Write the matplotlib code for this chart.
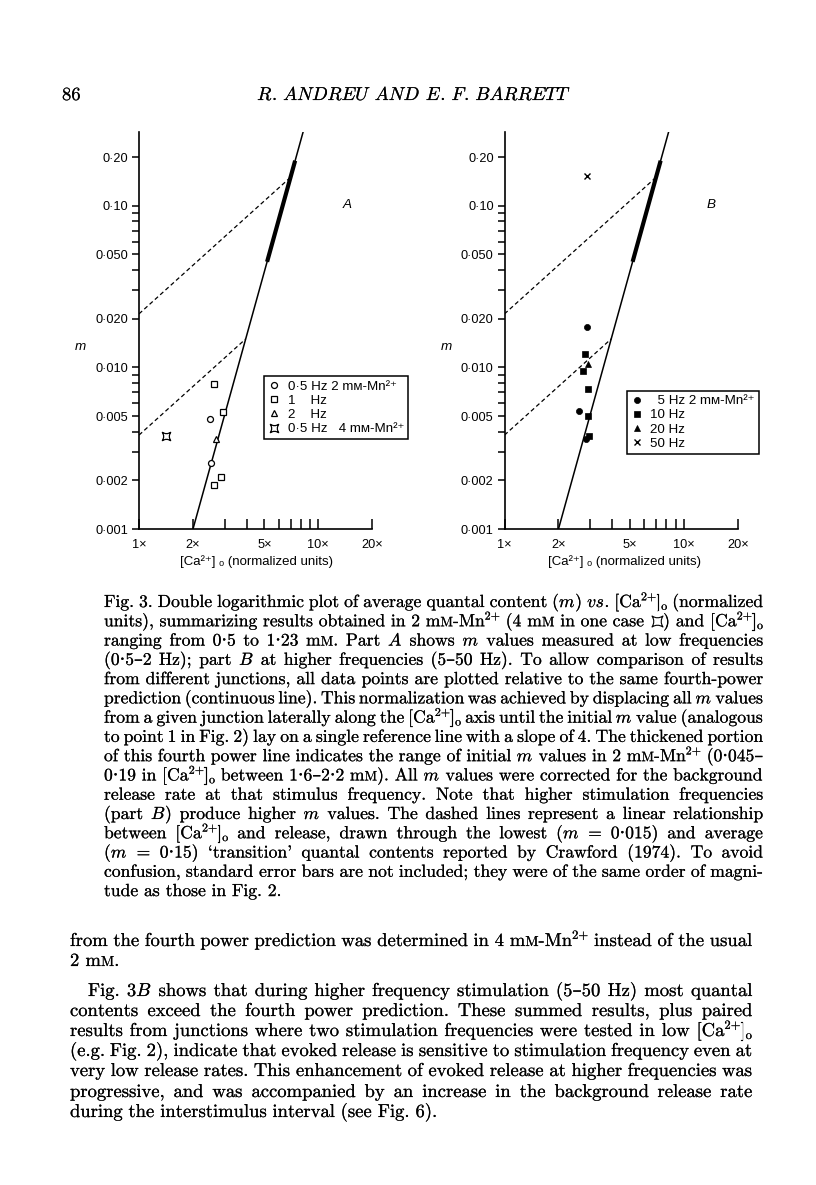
import matplotlib
matplotlib.use('Agg')
import numpy as np
import matplotlib.pyplot as plt
import matplotlib.patheffects as pe
from matplotlib.path import Path
from matplotlib.lines import Line2D
from matplotlib.transforms import IdentityTransform
from matplotlib.ticker import NullFormatter, FixedLocator, FixedFormatter
from matplotlib.font_manager import FontProperties

# ---------------- data ----------------
# Part A (low frequencies)
A_circle_x = [2.49, 2.52]
A_circle_m = [0.0048, 0.00255]
A_square_x = [2.62, 2.95, 2.85, 2.62]
A_square_m = [0.00786, 0.00532, 0.00209, 0.00187]
A_tri_x = [2.69]
A_tri_m = [0.00359]
A_quad_x = [1.41]
A_quad_m = [0.00378]
A_labels = ['0·5 Hz 2 mᴍ-Mn²⁺', '1    Hz', '2    Hz', '0·5 Hz   4 mᴍ-Mn²⁺']

# Part B (higher frequencies)
B_circle_x = [2.87, 2.61, 2.83]
B_circle_m = [0.0177, 0.00537, 0.00362]
B_square_x = [2.81, 2.73, 2.91, 2.93, 2.96]
B_square_m = [0.01205, 0.0095, 0.00735, 0.00503, 0.00376]
B_tri_x = [2.91]
B_tri_m = [0.0105]
B_cross_x = [2.87]
B_cross_m = [0.153]
B_labels = ['  5 Hz 2 mᴍ-Mn²⁺', '10 Hz', '20 Hz', '50 Hz']

# fourth-power reference line (passes through x=2, m=0.001, slope 4)
ref_x, ref_m, slope = 2.0, 0.001, 4.0
thick_range = (0.045, 0.19)        # initial m values, thickened portion
transition_m = [0.015, 0.15]       # Crawford (1974) transition quantal contents

x_major = [1, 2, 5, 10, 20]
x_major_labels = ['1×', '2×', '5×', '10×', '20×']
x_minor = [3, 4, 6, 7, 8, 9]
y_major = [0.001, 0.002, 0.005, 0.010, 0.020, 0.050, 0.10, 0.20]
y_major_labels = ['0·001', '0·002', '0·005', '0·010', '0·020', '0·050', '0·10', '0·20']
y_minor = [0.003, 0.004, 0.006, 0.007, 0.008, 0.009, 0.03, 0.04, 0.06, 0.07, 0.08, 0.09]

# ---------------- figure ----------------
W, H = 816, 1185
fig = plt.figure(figsize=(W / 100, H / 100), dpi=100)
fig.patch.set_facecolor('white')
renderer = fig.canvas.get_renderer()

SANS = ['Liberation Sans', 'DejaVu Sans']
SFS = 9.2
LFS = 9.6


def quad_marker(k=0.35):
    verts = [(-1, -1), (0, -k), (1, -1), (k, 0), (1, 1), (0, k), (-1, 1), (-k, 0), (-1, -1), (-1, -1)]
    codes = [Path.MOVETO] + [Path.CURVE3] * 8 + [Path.CLOSEPOLY]
    return Path(verts, codes)


QUAD = quad_marker()


def fourth_power(x):
    return ref_m * (np.asarray(x) / ref_x) ** slope


def x_of_m(m):
    return ref_x * (m / ref_m) ** (1.0 / slope)


def make_axes(left_px, bottom_px, xlabel_x):
    aw, ah = 233.3, 397.0
    ax = fig.add_axes([left_px / W, 1 - bottom_px / H, aw / W, ah / H])
    ax.set_xscale('log')
    ax.set_yscale('log')
    ax.set_xlim(1, 20)
    ax.set_ylim(0.001, 0.286)
    ax.patch.set_alpha(0)
    for s in ['top', 'right']:
        ax.spines[s].set_visible(False)
    for s in ['left', 'bottom']:
        ax.spines[s].set_linewidth(1.2)
    ax.xaxis.set_major_locator(FixedLocator(x_major))
    ax.xaxis.set_major_formatter(FixedFormatter(x_major_labels))
    ax.xaxis.set_minor_locator(FixedLocator(x_minor))
    ax.xaxis.set_minor_formatter(NullFormatter())
    ax.yaxis.set_major_locator(FixedLocator(y_major))
    ax.yaxis.set_major_formatter(FixedFormatter(y_major_labels))
    ax.yaxis.set_minor_locator(FixedLocator(y_minor))
    ax.yaxis.set_minor_formatter(NullFormatter())
    ax.tick_params(axis='x', which='both', direction='in', length=7.5, width=1.1, pad=7)
    ax.tick_params(axis='y', which='both', direction='out', length=5.3, width=1.1, pad=2.5)
    for lab in ax.get_xticklabels() + ax.get_yticklabels():
        lab.set_fontfamily(SANS)
        lab.set_fontsize(SFS)
    # fourth power line
    xs = np.array([ref_x, 12.0])
    ax.plot(xs, fourth_power(xs), color='k', lw=1.1, solid_capstyle='butt')
    xt = np.array([x_of_m(thick_range[0]), x_of_m(thick_range[1])])
    ax.plot(xt, fourth_power(xt), color='k', lw=3.0, solid_capstyle='butt')
    # dashed linear relations
    for mt in transition_m:
        xi = x_of_m(mt)
        xd = np.array([1.0, xi])
        ax.plot(xd, mt * xd / xi, color='k', lw=0.9, dashes=(3.4, 2.3))
    ax.set_ylabel('m', fontstyle='italic', fontfamily=SANS, fontsize=SFS + 0.5, rotation=0,
                  va='center', ha='center')
    ax.yaxis.set_label_coords(-0.25, 0.459)
    ax.set_xlabel('[Ca²⁺] ₒ (normalized units)', fontfamily=SANS, fontsize=SFS + 0.3,
                  va='center', ha='center')
    ax.xaxis.set_label_coords(xlabel_x, -0.083)
    return ax


def add_legend(ax, handles, labels, left_px, top_px):
    leg = ax.legend(handles, labels, loc='upper left', bbox_to_anchor=(left_px / W, 1 - top_px / H),
                    bbox_transform=fig.transFigure, frameon=True, fancybox=False, framealpha=1,
                    edgecolor='k', borderpad=0.32, handlelength=0.9, handletextpad=0.55,
                    labelspacing=0.14, borderaxespad=0, prop=FontProperties(family=SANS, size=LFS))
    leg.get_frame().set_linewidth(1.1)
    return leg


# ---------- panel A ----------
axA = make_axes(139.0, 529.0, 0.504)
axA.plot(A_circle_x, A_circle_m, ls='none', marker='o', ms=4.3, mfc='white', mec='k', mew=0.9)
axA.plot(A_square_x, A_square_m, ls='none', marker='s', ms=4.0, mfc='white', mec='k', mew=0.9)
axA.plot(A_tri_x, A_tri_m, ls='none', marker='^', ms=4.6, mfc='white', mec='k', mew=0.9)
axA.plot(A_quad_x, A_quad_m, ls='none', marker=QUAD, ms=6.0, mfc='white', mec='k', mew=0.9)
axA.text(0.893, 0.816, 'A', transform=axA.transAxes, fontstyle='italic', fontfamily=SANS,
         fontsize=SFS + 0.5, ha='center', va='center')
hA = [Line2D([], [], ls='none', marker='o', ms=4.3, mfc='white', mec='k', mew=0.9),
      Line2D([], [], ls='none', marker='s', ms=4.0, mfc='white', mec='k', mew=0.9),
      Line2D([], [], ls='none', marker='^', ms=4.6, mfc='white', mec='k', mew=0.9),
      Line2D([], [], ls='none', marker=QUAD, ms=6.0, mfc='white', mec='k', mew=0.9)]
add_legend(axA, hA, A_labels, 264.0, 376.0)

# ---------- panel B ----------
axB = make_axes(504.5, 529.0, 0.516)
axB.plot(B_circle_x, B_circle_m, ls='none', marker='o', ms=4.4, mfc='k', mec='k', mew=0.5)
axB.plot(B_square_x, B_square_m, ls='none', marker='s', ms=4.2, mfc='k', mec='k', mew=0.5)
axB.plot(B_tri_x, B_tri_m, ls='none', marker='^', ms=4.6, mfc='k', mec='k', mew=0.5)
axB.plot(B_cross_x, B_cross_m, ls='none', marker='x', ms=4.4, mec='k', mew=1.0)
axB.text(0.884, 0.816, 'B', transform=axB.transAxes, fontstyle='italic', fontfamily=SANS,
         fontsize=SFS + 0.5, ha='center', va='center')
hB = [Line2D([], [], ls='none', marker='o', ms=4.4, mfc='k', mec='k', mew=0.5),
      Line2D([], [], ls='none', marker='s', ms=4.2, mfc='k', mec='k', mew=0.5),
      Line2D([], [], ls='none', marker='^', ms=4.6, mfc='k', mec='k', mew=0.5),
      Line2D([], [], ls='none', marker='x', ms=4.0, mec='k', mew=1.0)]
add_legend(axB, hB, B_labels, 626.7, 390.7)

# ---------------- running text ----------------
ROMAN = ['cmr10', 'DejaVu Serif']
ITAL = ['cmmi10', 'DejaVu Serif']
ID = IdentityTransform()
INK = [pe.withStroke(linewidth=0.12, foreground='k')]


def parse(word):
    segs, style, buf = [], 'r', ''
    toggles = {'*': 'i', '~': 'sc', '^': 'sup', '_': 'sub'}
    for ch in word:
        if ch in toggles:
            if buf:
                segs.append((buf, style))
                buf = ''
            style = toggles[ch] if style != toggles[ch] else 'r'
        elif ch == '⌑':
            if buf:
                segs.append((buf, style))
                buf = ''
            segs.append(('⌑', 'q'))
        else:
            buf += ch
    if buf:
        segs.append((buf, style))
    return segs


def build_word(word, fs):
    """create artists for one word, return list of (artist, width, dy, kind)"""
    out = []
    em = fs * 100 / 72
    for text, st in parse(word):
        if st == 'q':
            ln = Line2D([0], [0], transform=ID, ls='none', marker=QUAD, ms=fs * 0.62,
                        mfc='white', mec='k', mew=0.8)
            fig.add_artist(ln)
            out.append((ln, em * 0.75, em * 0.3, 'q'))
            continue
        fam = ITAL if st == 'i' else ROMAN
        size = fs
        dy = 0.0
        if st == 'sc':
            size = fs * 0.78
        elif st == 'sup':
            size = fs * 0.68
            dy = em * 0.38
        elif st == 'sub':
            size = fs * 0.68
            dy = -em * 0.16
        t = fig.text(0, 0, text, transform=ID, fontsize=size, family=fam, ha='left', va='baseline',
                     color='k', path_effects=INK)
        w = t.get_window_extent(renderer).width
        if st == 'i':
            w += em * 0.04
        out.append((t, w, dy, 't'))
    return out


def layout_line(line, fs, x0, x1, y, justify=True, center=False):
    words = [w for w in line.split(' ') if w]
    built = [build_word(w, fs) for w in words]
    widths = [sum(p[1] for p in b) for b in built]
    em = fs * 100 / 72
    nat_space = 0.333 * em
    n = len(words) - 1
    total = sum(widths)
    if justify and n > 0:
        space = (x1 - x0 - total) / n
    else:
        space = nat_space
    if center:
        x = (x0 + x1) / 2 - (total + n * space) / 2
    else:
        x = x0
    yb = H - y
    for b, wsum in zip(built, widths):
        for art, w, dy, kind in b:
            if kind == 'q':
                art.set_data([x + w / 2], [yb + dy])
            else:
                art.set_position((x, yb + dy))
            x += w
        x += space


def natural_per_fs(line, fs0=10.0):
    words = [w for w in line.split(' ') if w]
    tot = 0.0
    for w in words:
        for art, wd, dy, kind in build_word(w, fs0):
            tot += wd
            art.remove()
    return tot / fs0, len(words) - 1


def fit_fs(lines, width):
    vals = []
    for ln in lines:
        per, n = natural_per_fs(ln)
        vals.append(width / (per + n * 0.333 * 100 / 72))
    return float(np.median(vals))


caption = [
    "Fig. 3. Double logarithmic plot of average quantal content (*m*) *vs*. [Ca^2+^]_o_ (normalized",
    "units), summarizing results obtained in 2 m~M~-Mn^2+^ (4 m~M~ in one case ⌑) and [Ca^2+^]_o_",
    "ranging from 0·5 to 1·23 m~M~. Part *A* shows *m* values measured at low frequencies",
    "(0·5–2 Hz); part *B* at higher frequencies (5–50 Hz). To allow comparison of results",
    "from different junctions, all data points are plotted relative to the same fourth-power",
    "prediction (continuous line). This normalization was achieved by displacing all *m* values",
    "from a given junction laterally along the [Ca^2+^]_o_ axis until the initial *m* value (analogous",
    "to point 1 in Fig. 2) lay on a single reference line with a slope of 4. The thickened portion",
    "of this fourth power line indicates the range of initial *m* values in 2 m~M~-Mn^2+^ (0·045–",
    "0·19 in [Ca^2+^]_o_ between 1·6–2·2 m~M~). All *m* values were corrected for the background",
    "release rate at that stimulus frequency. Note that higher stimulation frequencies",
    "(part *B*) produce higher *m* values. The dashed lines represent a linear relationship",
    "between [Ca^2+^]_o_ and release, drawn through the lowest (*m* = 0·015) and average",
    "(*m* = 0·15) `transition' quantal contents reported by Crawford (1974). To avoid",
    "confusion, standard error bars are not included; they were of the same order of magni-",
    "tude as those in Fig. 2.",
]
body = [
    "from the fourth power prediction was determined in 4 m~M~-Mn^2+^ instead of the usual",
    "2 m~M~.",
    "Fig. 3*B* shows that during higher frequency stimulation (5–50 Hz) most quantal",
    "contents exceed the fourth power prediction. These summed results, plus paired",
    "results from junctions where two stimulation frequencies were tested in low [Ca^2+^]_o_",
    "(e.g. Fig. 2), indicate that evoked release is sensitive to stimulation frequency even at",
    "very low release rates. This enhancement of evoked release at higher frequencies was",
    "progressive, and was accompanied by an increase in the background release rate",
    "during the interstimulus interval (see Fig. 6).",
]

CAP_X0, CAP_X1 = 104.0, 763.0
cap_fs = fit_fs(caption[:-1], CAP_X1 - CAP_X0)
for i, ln in enumerate(caption):
    layout_line(ln, cap_fs, CAP_X0, CAP_X1, 607 + 19.27 * i, justify=(i < len(caption) - 1))

BODY_X0, BODY_X1 = 70.0, 752.0
body_fs = fit_fs([body[0]] + body[3:8], BODY_X1 - BODY_X0)
body_y = [946, 966, 996, 1016, 1036, 1056, 1076, 1097, 1117]
for i, ln in enumerate(body):
    x0 = BODY_X0 + (18 if i == 2 else 0)
    just = i not in (1, 8)
    layout_line(ln, body_fs, x0, BODY_X1, body_y[i], justify=just)

# running head
layout_line("86", body_fs, 62, 62, 100, justify=False)
layout_line("*R*. *ANDREU* *AND* *E*. *F*. *BARRETT*", body_fs, 258, 567, 100, justify=False, center=True)

fig.savefig('out.png', dpi=100, facecolor='white')
